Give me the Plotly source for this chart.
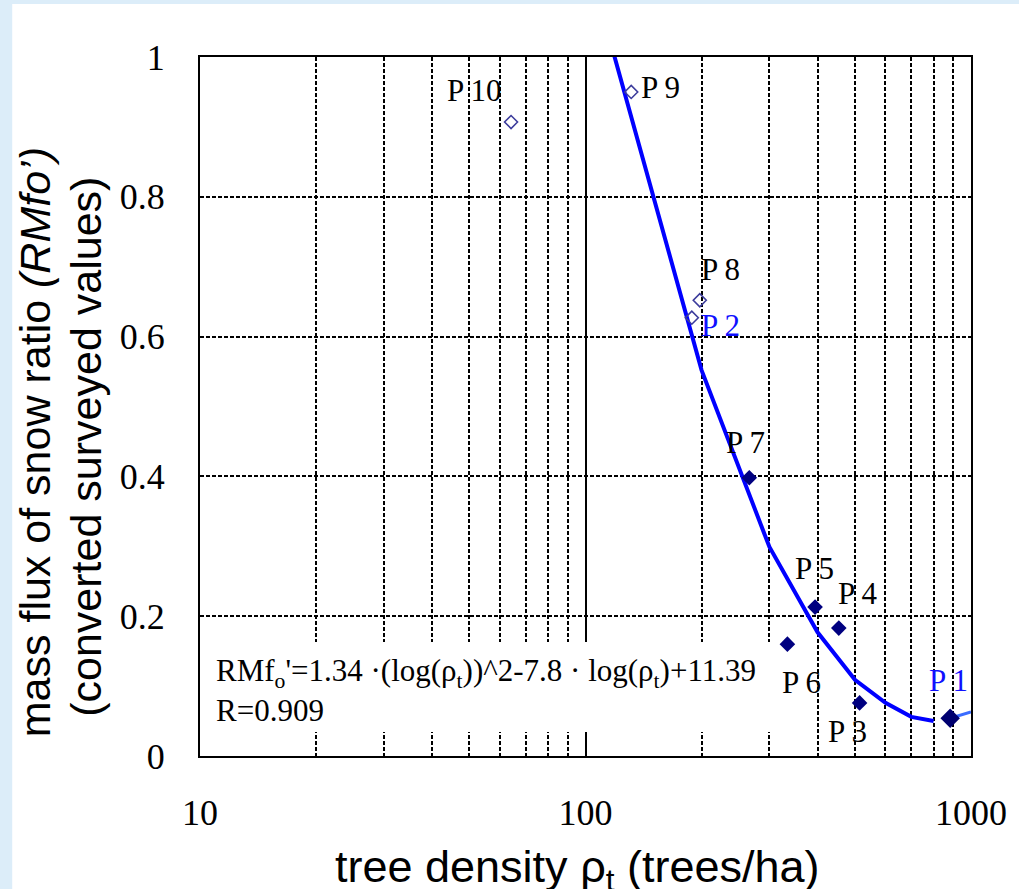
import math
import plotly.graph_objects as go

# surveyed points (tree density in trees/ha, converted RMfo')
filledNames = ['P 7', 'P 5', 'P 4', 'P 6', 'P 3']
filledDensity = [266, 394, 454, 334, 514]
filledRatio = [0.398, 0.213, 0.183, 0.160, 0.076]

p1Density = [883]
p1Ratio = [0.054]

openNames = ['P 10', 'P 9', 'P 8', 'P 2']
openDensity = [64.1, 131.4, 197.9, 188.7]
openRatio = [0.907, 0.950, 0.652, 0.627]

# fitted curve at the grid values
curveDensity = [100, 200, 300, 400, 500, 600, 700, 800]
curveRatio = [1.15, 0.552, 0.299, 0.177, 0.109, 0.076, 0.056, 0.050]

tailDensity = [883, 1000]
tailRatio = [0.054, 0.063]

xTickVals = [10, 100, 1000]
xTickText = ['10', '100', '1000']
xMinorVals = [20, 30, 40, 50, 60, 70, 80, 90, 200, 300, 400, 500, 600, 700, 800, 900]
yTickVals = [0, 0.2, 0.4, 0.6, 0.8, 1]
yTickText = ['0', '0.2', '0.4', '0.6', '0.8', '1']

# label offsets in pixels from each marker
labelShift = {
    'P 10': (-37, 32), 'P 9': (29, 4), 'P 8': (21, 31), 'P 2': (29, -8),
    'P 7': (-4, 35), 'P 5': (-1, 39), 'P 4': (19, 35), 'P 6': (14, -38),
    'P 3': (-12, -29), 'P 1': (-2, 38),
}
blueLabels = ['P 2', 'P 1']

serif = 'Liberation Serif, Times New Roman, serif'
sans = 'Liberation Sans, Arial, sans-serif'

fig = go.Figure()

fig.add_trace(go.Scatter(x=tailDensity, y=tailRatio, mode='lines',
                         line=dict(color='#3a6cff', width=3), showlegend=False))
fig.add_trace(go.Scatter(x=curveDensity, y=curveRatio, mode='lines',
                         line=dict(color='#0000ff', width=4), showlegend=False))
fig.add_trace(go.Scatter(x=openDensity, y=openRatio, mode='markers',
                         marker=dict(symbol='diamond-open', size=10, color='#3c3c9c',
                                     line=dict(width=1.6, color='#3c3c9c')),
                         showlegend=False))
fig.add_trace(go.Scatter(x=filledDensity, y=filledRatio, mode='markers',
                         marker=dict(symbol='diamond', size=12, color='#000080',
                                     line=dict(width=0)),
                         showlegend=False))
fig.add_trace(go.Scatter(x=p1Density, y=p1Ratio, mode='markers',
                         marker=dict(symbol='diamond', size=15, color='#000070',
                                     line=dict(width=0)),
                         showlegend=False))

#white box behind the equation (drawn first so the labels sit on top)
fig.add_annotation(xref='paper', yref='paper', x=0, y=0.034, xanchor='left', yanchor='bottom',
                   text=' ', showarrow=False, width=575, height=90, bgcolor='white',
                   borderpad=0, borderwidth=0)
fig.add_annotation(xref='paper', yref='paper', x=0.018, y=0.093, xanchor='left', yanchor='middle',
                   align='left', showarrow=False,
                   text="RMf<sub>o</sub>'=1.34 ·(log(ρ<sub>t</sub>))^2-7.8 · log(ρ<sub>t</sub>)+11.39<br>R=0.909",
                   font=dict(family=serif, size=31, color='black'))

#point labels
allNames = openNames + filledNames + ['P 1']
allX = openDensity + filledDensity + p1Density
allY = openRatio + filledRatio + p1Ratio
for name, xv, yv in zip(allNames, allX, allY):
    dx, dy = labelShift[name]
    fig.add_annotation(x=math.log10(xv), y=yv, xref='x', yref='y',
                       xanchor='center', yanchor='middle',
                       text=name.replace(' ', '\u2009'), showarrow=False,
                       xshift=dx, yshift=dy,
                       font=dict(family=serif, size=31,
                                 color='#1010ff' if name in blueLabels else 'black'))

#axis titles
fig.add_annotation(xref='paper', yref='paper', x=-0.2139, y=0.449, textangle=-90,
                   xanchor='center', yanchor='middle',
                   showarrow=False, text='mass flux of snow ratio <i>(RMfo’)</i>',
                   font=dict(family=sans, size=43, color='black'))
fig.add_annotation(xref='paper', yref='paper', x=-0.1482, y=0.442, textangle=-90,
                   xanchor='center', yanchor='middle',
                   showarrow=False, text='(converted surveyed values)',
                   font=dict(family=sans, size=43, color='black'))
fig.add_annotation(xref='paper', yref='paper', x=0.4897, y=-0.163,
                   xanchor='center', yanchor='middle',
                   showarrow=False, text='tree density ρ<sub>t</sub> (trees/ha)',
                   font=dict(family=sans, size=45, color='black'))

#light blue page edge with white panel
fig.add_shape(type='rect', xref='paper', yref='paper', layer='below',
              x0=(11 - 200) / 776, x1=(1030 - 200) / 776,
              y0=(756 - 900) / 699, y1=(756 - 4) / 699,
              fillcolor='white', line=dict(width=0))

fig.update_layout(
    width=1019, height=889,
    margin=dict(l=200, r=43, t=57, b=133),
    paper_bgcolor='#dcedf9',
    plot_bgcolor='white',
    showlegend=False,
    xaxis=dict(type='log', range=[1, 3], tickvals=xTickVals, ticktext=xTickText,
               showline=True, mirror=True, linecolor='black', linewidth=2,
               showgrid=True, gridcolor='black', gridwidth=2,
               ticks='', ticklabelstandoff=24,
               tickfont=dict(family=serif, size=36, color='black'),
               minor=dict(tickvals=xMinorVals, showgrid=True, gridcolor='black',
                          gridwidth=1.6, griddash='4px,2px', ticks='')),
    yaxis=dict(range=[0, 1], tickvals=yTickVals, ticktext=yTickText,
               showline=True, mirror=True, linecolor='black', linewidth=2,
               showgrid=True, gridcolor='black', gridwidth=1.6, griddash='4px,2px',
               zeroline=False, ticks='', ticklabelstandoff=26,
               tickfont=dict(family=serif, size=36, color='black')),
)

fig.write_html('out.html', config={'displayModeBar': False},
               post_script="document.body.style.margin='0px';")
